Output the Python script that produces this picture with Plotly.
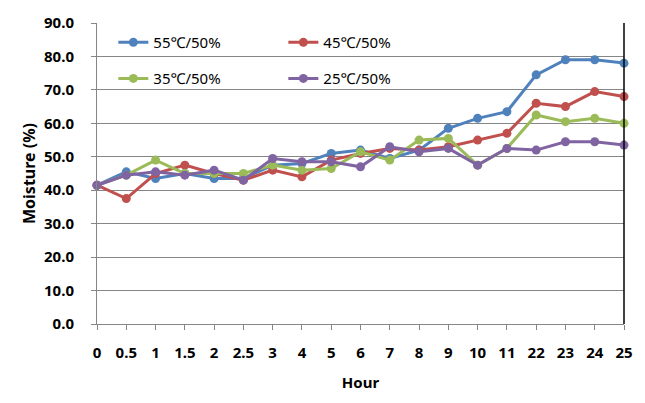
import plotly.graph_objects as go

hours = ["0", "0.5", "1", "1.5", "2", "2.5", "3", "4", "5", "6", "7", "8", "9", "10", "11", "22", "23", "24", "25"]
s55 = [41.5, 45.5, 43.5, 45.0, 43.5, 43.5, 47.5, 48.0, 51.0, 52.0, 49.5, 52.0, 58.5, 61.5, 63.5, 74.5, 79.0, 79.0, 78.0]
s45 = [41.5, 37.5, 45.0, 47.5, 45.0, 43.0, 46.0, 44.0, 49.0, 51.0, 52.5, 52.0, 53.0, 55.0, 57.0, 66.0, 65.0, 69.5, 68.0]
s35 = [41.5, 44.5, 49.0, 45.0, 45.0, 45.0, 47.5, 46.0, 46.5, 51.5, 49.0, 55.0, 55.5, 47.5, 52.5, 62.5, 60.5, 61.5, 60.0]
s25 = [41.5, 44.5, 45.5, 44.5, 46.0, 43.0, 49.5, 48.5, 48.5, 47.0, 53.0, 51.5, 52.5, 47.5, 52.5, 52.0, 54.5, 54.5, 53.5]
names = ["55℃/50%", "45℃/50%", "35℃/50%", "25℃/50%"]
colors = ["#4F81BD", "#C0504D", "#9BBB59", "#8064A2"]
series = [s55, s45, s35, s25]
legends = ["legend", "legend", "legend2", "legend2"]

FONT = "Noto Sans"
fig = go.Figure()
for n, c, s, lg in zip(names, colors, series, legends):
    fig.add_trace(go.Scatter(
        x=hours, y=s, name=n, mode="lines+markers",
        line=dict(color=c, width=3), marker=dict(color=c, size=9),
        cliponaxis=False, legend=lg,
    ))

legend_common = dict(orientation="h", bgcolor="rgba(0,0,0,0)", entrywidth=125,
                     font=dict(family=FONT, size=15, color="#000000"),
                     xanchor="left", yanchor="middle", itemwidth=30, tracegroupgap=0)
fig.update_layout(
    width=645, height=403,
    margin=dict(l=97, r=18, t=22, b=79),
    paper_bgcolor="white", plot_bgcolor="white",
    font=dict(family=FONT, size=13, color="#000000"),
    legend=dict(x=0.031, y=0.935, **legend_common),
    legend2=dict(x=0.031, y=0.815, **legend_common),
    xaxis=dict(
        type="category", range=[0, 18], showgrid=False,
        showline=True, linecolor="#868686", linewidth=1,
        ticks="outside", ticklen=5, tickcolor="#868686",
        ticklabelstandoff=10,
        tickfont=dict(family=FONT, size=15, color="#000000", weight="bold"),
        title=dict(text="Hour", font=dict(family=FONT, size=15, weight="bold"), standoff=16),
    ),
    yaxis=dict(
        range=[0, 90], dtick=10, tickformat=".1f",
        showgrid=True, gridcolor="#868686", gridwidth=1,
        showline=True, linecolor="#868686", linewidth=1,
        ticks="outside", ticklen=5, tickcolor="#868686",
        ticklabelstandoff=14,
        tickfont=dict(family=FONT, size=15, color="#000000", weight="bold"),
        title=dict(text="Moisture (%)", font=dict(family=FONT, size=16, weight="bold"), standoff=4),
        zeroline=False,
    ),
    showlegend=True,
)
fig.add_shape(type="line", xref="paper", yref="paper", x0=1, x1=1, y0=0, y1=1,
              line=dict(color="#000000", width=1.5))
fig.write_html("out.html", config={"displayModeBar": False},
               post_script="document.body.style.margin='0px';document.body.style.overflow='hidden';")
